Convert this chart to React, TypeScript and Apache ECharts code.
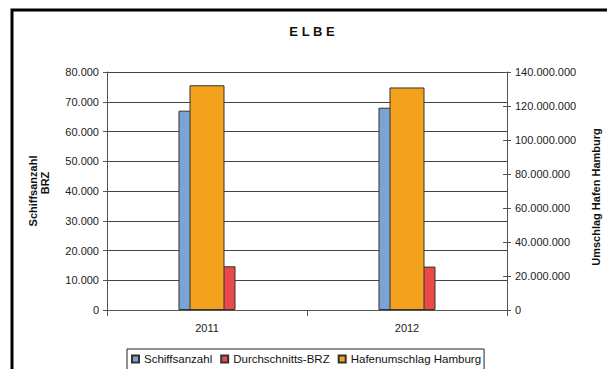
import React, { useEffect, useRef } from "react";
import * as echarts from "echarts";

const categories = ["2011", "2012"];
const schiffsanzahl = [67000, 68000];
const durchschnittsBRZ = [14700, 14600];
const hafenumschlag = [132200000, 130900000];

const seriesNames = ["Schiffsanzahl", "Durchschnitts-BRZ", "Hafenumschlag Hamburg"];

const FONT = "'Liberation Sans', Arial, sans-serif";

const fmt = (v: number) => String(Math.round(v)).replace(/\B(?=(\d{3})+(?!\d))/g, ".");

export default function App() {
  const ref = useRef<HTMLDivElement>(null);
  useEffect(() => {
    if (!ref.current) return;
    const chart = echarts.init(ref.current, null, { renderer: "svg" });
    chart.setOption({
      animation: false,
      backgroundColor: "#fff",
      textStyle: { fontFamily: FONT },
      grid: { left: 107, right: 100, top: 72, bottom: 59, containLabel: false },
      xAxis: [
        {
          type: "category",
          data: categories,
          axisLine: { show: true, lineStyle: { color: "#555", width: 1 } },
          axisTick: { show: true, length: 6, lineStyle: { color: "#555" } },
          axisLabel: { color: "#222", fontSize: 11, margin: 12, fontFamily: FONT },
        },
        {
          type: "category",
          data: categories,
          show: false,
        },
      ],
      yAxis: [
        {
          type: "value",
          min: 0,
          max: 80000,
          interval: 10000,
          axisLine: { show: true, lineStyle: { color: "#555" } },
          axisTick: { show: true, length: 4, lineStyle: { color: "#555" } },
          axisLabel: { color: "#222", fontSize: 11, margin: 8, formatter: fmt, fontFamily: FONT },
          splitLine: { show: true, lineStyle: { color: "#444", width: 1 } },
        },
        {
          type: "value",
          min: 0,
          max: 140000000,
          interval: 20000000,
          position: "right",
          axisLine: { show: true, lineStyle: { color: "#555" } },
          axisTick: { show: true, length: 4, lineStyle: { color: "#555" } },
          axisLabel: { color: "#222", fontSize: 11, margin: 8, formatter: fmt, fontFamily: FONT },
          splitLine: { show: false },
        },
        {
          type: "value",
          min: 0,
          max: 140000000,
          interval: 20000000,
          position: "right",
          axisLine: { show: false },
          axisTick: { show: true, inside: true, length: 4, lineStyle: { color: "#555" } },
          axisLabel: { show: false },
          splitLine: { show: false },
        },
      ],
      legend: {
        data: seriesNames,
        left: 127,
        top: 349,
        orient: "horizontal",
        itemWidth: 7,
        itemHeight: 7,
        itemGap: 8,
        icon: "rect",
        padding: [4, 3, 8, 4],
        borderColor: "#222",
        borderWidth: 1,
        textStyle: { color: "#111", fontSize: 11.5, fontFamily: FONT },
      },
      series: [
        {
          name: "Schiffsanzahl",
          type: "bar",
          xAxisIndex: 0,
          yAxisIndex: 0,
          data: schiffsanzahl,
          barWidth: 23,
          barGap: "48%",
          itemStyle: { color: "#7BA3D3", borderColor: "#333", borderWidth: 1 },
          z: 2,
        },
        {
          name: "Durchschnitts-BRZ",
          type: "bar",
          xAxisIndex: 0,
          yAxisIndex: 0,
          data: durchschnittsBRZ,
          barWidth: 23,
          barGap: "48%",
          itemStyle: { color: "#E84A4A", borderColor: "#333", borderWidth: 1 },
          z: 2,
        },
        {
          name: "Hafenumschlag Hamburg",
          type: "bar",
          xAxisIndex: 1,
          yAxisIndex: 1,
          data: hafenumschlag,
          barWidth: 35,
          itemStyle: { color: "#F4A11D", borderColor: "#333", borderWidth: 1 },
          z: 3,
        },
      ],
      graphic: [
        {
          type: "rect",
          shape: { x: 12, y: 10, width: 700, height: 500 },
          style: { fill: "none", stroke: "#000", lineWidth: 3 },
          z: 10,
        },
        {
          type: "text",
          x: 312,
          y: 31,
          style: {
            text: "E L B E",
            font: `bold 13px ${FONT}`,
            fill: "#111",
            textAlign: "center",
            textVerticalAlign: "middle",
          },
        },
        {
          type: "text",
          x: 33,
          y: 191,
          rotation: Math.PI / 2,
          style: {
            text: "Schiffsanzahl",
            font: `bold 11px ${FONT}`,
            fill: "#111",
            textAlign: "center",
            textVerticalAlign: "middle",
          },
        },
        {
          type: "text",
          x: 45,
          y: 183,
          rotation: Math.PI / 2,
          style: {
            text: "BRZ",
            font: `bold 11px ${FONT}`,
            fill: "#111",
            textAlign: "center",
            textVerticalAlign: "middle",
          },
        },
        {
          type: "text",
          x: 596,
          y: 197,
          rotation: Math.PI / 2,
          style: {
            text: "Umschlag Hafen Hamburg",
            font: `bold 11px ${FONT}`,
            fill: "#111",
            textAlign: "center",
            textVerticalAlign: "middle",
          },
        },
      ],
    });
    return () => chart.dispose();
  }, []);
  return (
    <div
      ref={ref}
      style={{ position: "fixed", left: 0, top: 0, width: 607, height: 369 }}
    />
  );
}
